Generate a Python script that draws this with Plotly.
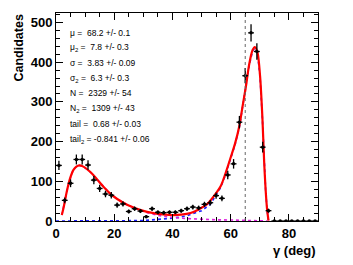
import plotly.graph_objects as go

# ---- data ----
bin_centers = [1, 3, 5, 7, 9, 11, 13, 15, 17, 19, 21, 23, 25, 27, 29, 31, 33, 35, 37, 39,
               41, 43, 45, 47, 49, 51, 53, 55, 57, 59, 61, 63, 65, 67, 69, 71, 73, 75, 77, 79,
               81, 83, 85, 87, 89]
counts = [140, 52, 95, 155, 155, 141, 103, 82, 68, 65, 40, 43, 24, 31, 25, 11, 31, 22, 21, 22,
          22, 26, 31, 35, 33, 42, 46, 64, 57, 116, 144, 249, 366, 474, 427, 186, 26, 0, 0, 0,
          0, 0, 0, 0, 0]
bin_half_width = 1.0

# total fit (red)
fit_x = [2.0, 2.5, 3.0, 3.5, 4.0, 4.5, 5.0, 5.5, 6.0, 7.0, 8.0, 9.4, 11.7, 14.0, 16.3, 18.6,
         20.9, 24.4, 27.8, 31.3, 35.0, 40.0, 43.0, 46.2, 49.0, 52.0, 55.0, 56.6, 58.0, 60.0,
         61.5, 63.0, 64.0, 65.2, 66.3, 67.5, 68.3, 69.2, 70.1, 70.9, 71.5, 72.0, 72.5, 73.0]
fit_y = [15, 30, 48, 67, 84, 99, 111, 121, 129, 137, 140, 137, 124, 106, 86, 69,
         56, 41, 31, 23, 18, 15, 16, 20, 29, 43, 70, 88, 115, 160,
         195, 240, 285, 337, 392, 430, 438, 425, 365, 260, 150, 80, 30, 1]

# main component (blue dotted)
comp1_x = [0, 10, 20, 26, 30, 35, 40, 45, 50, 53, 55, 56.6, 58.0, 60.0, 61.5, 63.0, 64.0,
           65.2, 66.3, 67.5, 68.3, 69.2, 70.1, 70.9, 71.5, 72.0, 72.5, 73.0]
comp1_y = [0, 0, 0, 0, 1, 4, 7, 13, 26, 42, 66, 85, 112, 157, 192, 237, 282,
           334, 389, 428, 436, 423, 363, 258, 149, 79, 29, 0]

# second component (magenta dotted)
comp2_x = [2.0, 2.5, 3.0, 3.5, 4.0, 4.5, 5.0, 5.5, 6.0, 7.0, 8.0, 9.4, 11.7, 14.0, 16.3,
           18.6, 20.9, 24.4, 27.8, 31.3, 35.0, 40.0, 45.0, 50.0, 55.0, 60.0, 65.0, 70.0,
           72.0, 72.6]
comp2_y = [15, 30, 48, 67, 84, 99, 111, 121, 129, 137, 140, 137, 124, 106, 86,
           69, 56, 41, 30, 21, 14, 9, 6, 4, 3, 2.5, 2, 1.5, 1, 0]

cut_value = 65

param_lines = [
    "μ =\u00a0 68.2 +/- 0.1",
    "μ<sub>2</sub> =\u00a0 7.8 +/- 0.3",
    "σ =\u00a0 3.83 +/- 0.09",
    "σ<sub>2</sub> =\u00a0 6.3 +/- 0.3",
    "N =\u00a0 2329 +/- 54",
    "N<sub>2</sub> =\u00a0 1309 +/- 43",
    "tail =\u00a0 0.68 +/- 0.03",
    "tail<sub>2</sub> = -0.841 +/- 0.06",
]

x_range = [0, 90]
y_range = [0, 524]

FONT = "Liberation Sans, Arial, Helvetica, sans-serif"

fig = go.Figure()

fig.add_trace(go.Scatter(x=comp1_x, y=comp1_y, mode="lines",
                         line=dict(color="#2020ff", width=1.6, dash="dot"), hoverinfo="skip"))
fig.add_trace(go.Scatter(x=comp2_x, y=comp2_y, mode="lines",
                         line=dict(color="#dd22dd", width=1.6, dash="dot"), hoverinfo="skip"))
fig.add_trace(go.Scatter(x=fit_x, y=fit_y, mode="lines", line_shape="spline",
                         line=dict(color="#ff0000", width=2.2, smoothing=0.8)))

errs = [c ** 0.5 for c in counts]
fig.add_trace(go.Scatter(
    x=bin_centers, y=counts, mode="markers",
    marker=dict(color="black", size=3.5),
    error_y=dict(type="data", array=errs, color="black", thickness=1.3, width=0),
    error_x=dict(type="constant", value=bin_half_width, color="black", thickness=1.3, width=0),
))

fig.add_vline(x=cut_value, line=dict(color="#666666", width=1, dash="dot"))

ann = []
for i, t in enumerate(param_lines):
    ann.append(dict(x=0.045, y=0.905 - i * 0.073, xref="paper", yref="paper",
                    text=t, showarrow=False, xanchor="left", yanchor="middle",
                    font=dict(family=FONT, size=8.5, color="black")))
ann.append(dict(x=-0.145, y=1.0, xref="paper", yref="paper", text="Candidates",
                textangle=-90, showarrow=False, xanchor="center", yanchor="top",
                font=dict(family=FONT, size=12.5, color="black", weight="bold")))
ann.append(dict(x=1.0, y=-0.14, xref="paper", yref="paper", text="γ (deg)",
                showarrow=False, xanchor="right", yanchor="middle",
                font=dict(family=FONT, size=13, color="black", weight="bold")))

axis_common = dict(showgrid=False, zeroline=False, showline=True, linecolor="black",
                   linewidth=1, mirror="allticks", ticks="inside", tickcolor="black",
                   automargin=False,
                   tickfont=dict(family=FONT, size=13, color="black", weight="bold"))

fig.update_layout(
    width=345, height=257,
    margin=dict(l=48, r=35, t=5, b=44),
    paper_bgcolor="white", plot_bgcolor="white",
    showlegend=False,
    annotations=ann,
    xaxis=dict(range=x_range, tickvals=[0, 20, 40, 60, 80], ticklen=7, ticklabelstandoff=0,
               minor=dict(ticks="inside", ticklen=4, dtick=5, tickcolor="black"),
               **axis_common),
    yaxis=dict(range=y_range, tickvals=[0, 100, 200, 300, 400, 500], ticklen=7,
               minor=dict(ticks="inside", ticklen=4, dtick=20, tickcolor="black"),
               **axis_common),
)

fig.write_html("out.html")
